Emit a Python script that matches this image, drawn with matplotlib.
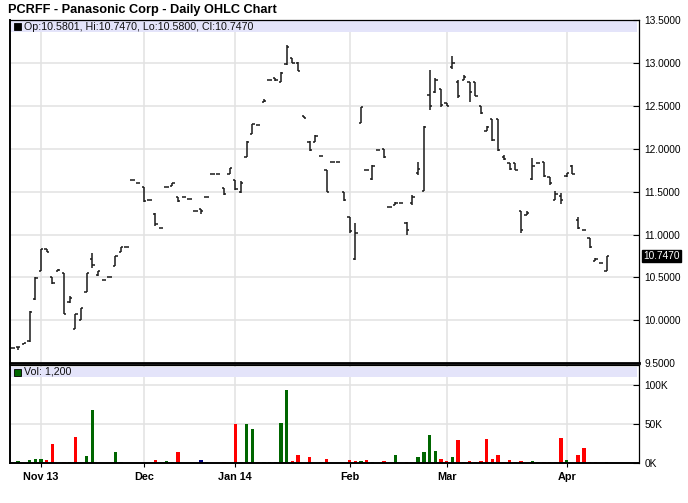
import matplotlib
matplotlib.use("Agg")
import matplotlib.pyplot as plt
from matplotlib.patches import Rectangle
from matplotlib.ticker import FixedLocator, FuncFormatter

plt.rcParams["font.family"] = ["Liberation Sans", "DejaVu Sans"]

# === DATA (one entry per trading session, oldest first) ===
opens = [9.68, 9.69, 9.73, 9.76, 10.25, 10.58, 10.83, 10.51, 10.58, 10.55,
         10.22, 9.90, 10.01, 10.33, 10.72, 10.53, 10.47, 10.50, 10.63, 10.80,
         10.85, 11.63, 11.60, 11.56, 11.40, 11.24, 11.08, 11.55, 11.57, 11.44,
         11.44, 11.41, 11.27, 11.30, 11.44, 11.71, 11.71, 11.54, 11.71, 11.64,
         11.50, 11.90, 12.17, 12.28, 12.54, 12.80, 12.82, 12.78, 12.99, 13.06,
         13.00, 12.38, 12.08, 12.08, 11.91, 11.75, 11.85, 11.85, 11.50, 11.21,
         10.71, 12.30, 11.75, 11.65, 11.99, 12.00, 11.32, 11.35, 11.37, 11.14,
         11.37, 11.72, 11.51, 12.63, 12.66, 12.70, 12.53, 12.95, 12.78, 12.80,
         12.78, 12.78, 12.50, 12.21, 12.35, 12.35, 11.90, 11.83, 11.83, 11.27,
         11.23, 11.65, 11.83, 11.85, 11.67, 11.40, 11.45, 11.68, 11.80, 11.17,
         11.05, 10.96, 10.69, 10.67, 10.5801]
highs = [9.68, 9.69, 9.74, 10.11, 10.50, 10.83, 10.83, 10.51, 10.60, 10.55,
         10.28, 10.07, 10.14, 10.55, 10.79, 10.57, 10.47, 10.50, 10.75, 10.85,
         10.85, 11.63, 11.60, 11.56, 11.40, 11.25, 11.08, 11.56, 11.60, 11.44,
         11.44, 11.41, 11.27, 11.30, 11.44, 11.71, 11.71, 11.54, 11.77, 11.64,
         11.62, 12.09, 12.29, 12.28, 12.58, 12.80, 12.82, 12.89, 13.21, 13.06,
         13.01, 12.38, 12.09, 12.16, 11.91, 11.75, 11.85, 11.85, 11.50, 11.21,
         11.13, 12.49, 11.75, 11.81, 11.99, 12.00, 11.32, 11.38, 11.37, 11.15,
         11.46, 11.84, 12.26, 12.92, 12.82, 12.70, 12.53, 13.08, 12.80, 12.86,
         12.78, 12.78, 12.50, 12.26, 12.35, 12.35, 11.93, 11.83, 11.83, 11.27,
         11.27, 11.89, 11.83, 11.85, 11.67, 11.51, 11.49, 11.72, 11.81, 11.20,
         11.05, 10.96, 10.73, 10.67, 10.747]
lows = [9.68, 9.65, 9.73, 9.75, 10.24, 10.57, 10.80, 10.42, 10.58, 10.08,
        10.20, 9.90, 10.00, 10.33, 10.61, 10.52, 10.47, 10.50, 10.63, 10.80,
        10.85, 11.63, 11.60, 11.38, 11.40, 11.10, 11.08, 11.55, 11.57, 11.38,
        11.44, 11.41, 11.27, 11.24, 11.44, 11.71, 11.71, 11.46, 11.71, 11.52,
        11.49, 11.90, 12.17, 12.28, 12.54, 12.80, 12.79, 12.78, 12.98, 13.00,
        12.90, 12.36, 11.97, 12.08, 11.91, 11.50, 11.85, 11.85, 11.39, 11.02,
        10.70, 12.30, 11.75, 11.64, 11.99, 11.89, 11.32, 11.35, 11.37, 11.00,
        11.35, 11.69, 11.51, 12.45, 12.65, 12.49, 12.50, 12.93, 12.59, 12.80,
        12.54, 12.61, 12.41, 12.21, 12.09, 11.97, 11.87, 11.75, 11.75, 11.02,
        11.23, 11.64, 11.83, 11.67, 11.58, 11.40, 11.36, 11.67, 11.70, 11.06,
        11.05, 10.84, 10.69, 10.67, 10.58]
closes = [9.68, 9.69, 9.74, 10.10, 10.49, 10.83, 10.80, 10.44, 10.59, 10.08,
          10.26, 10.07, 10.14, 10.55, 10.65, 10.57, 10.47, 10.50, 10.75, 10.85,
          10.85, 11.63, 11.60, 11.39, 11.40, 11.12, 11.08, 11.56, 11.60, 11.39,
          11.44, 11.41, 11.27, 11.27, 11.44, 11.71, 11.71, 11.47, 11.77, 11.53,
          11.60, 12.08, 12.29, 12.28, 12.56, 12.80, 12.80, 12.88, 13.19, 13.00,
          12.91, 12.36, 11.98, 12.15, 11.91, 11.50, 11.85, 11.85, 11.40, 11.04,
          11.02, 12.49, 11.75, 11.80, 11.99, 11.90, 11.32, 11.37, 11.37, 11.05,
          11.44, 11.76, 12.25, 12.50, 12.80, 12.51, 12.50, 13.00, 12.62, 12.84,
          12.66, 12.62, 12.42, 12.25, 12.10, 11.98, 11.88, 11.76, 11.75, 11.05,
          11.25, 11.80, 11.83, 11.68, 11.60, 11.47, 11.40, 11.72, 11.71, 11.08,
          11.05, 10.85, 10.72, 10.67, 10.747]
volumes_k = [0, 3, 0, 4, 5.5, 5.5, 4, 25, 0, 2,
             2, 34, 0, 9, 68, 0, 0, 0, 15, 1.7,
             0, 0, 0, 0, 0, 4, 0, 3, 1.7, 14,
             0, 0, 0, 4, 1.7, 0, 0, 1.7, 0, 50,
             1.7, 50, 44, 1.3, 1.3, 1.3, 1.3, 51, 93, 2.5,
             11, 0, 7.6, 0, 1.7, 5, 0, 0, 0, 4,
             3, 2.5, 4, 1.7, 0, 2.5, 0, 10, 0, 1.7,
             0, 8.5, 14, 36, 16, 5, 3, 7.6, 30, 1.7,
             3.4, 1.7, 3.4, 31, 5, 10, 1.7, 4.7, 1.7, 3.4,
             0, 2.5, 1.3, 1.3, 1.3, 1.3, 32, 4, 0, 10,
             20, 1.3, 1.3, 0, 1.2]
month_idx = [5, 23, 39, 59, 76, 97]
month_labels = ["Nov 13", "Dec", "Jan 14", "Feb", "Mar", "Apr"]
price_ticks = [9.5, 10.0, 10.5, 11.0, 11.5, 12.0, 12.5, 13.0, 13.5]
vol_ticks = [0, 50, 100]
TITLE = "PCRFF - Panasonic Corp - Daily OHLC Chart"

# === FIGURE CONFIGURATION ===
W, H = 688, 503
DPI = 100
AX_LEFT, AX_RIGHT = 9.7, 639.3          # pixels
PRICE_TOP, PRICE_BOTTOM = 20.0, 363.3
VOL_TOP, VOL_BOTTOM = 364.5, 463.3
XLIM = (-0.47, 109.7)
VOL_MAX = 125.7
GRID = "#e2e2e2"
BAND = "#e4e4fa"
UP, DOWN, FLAT = "#006600", "#ff0000", "#000080"
BAR = "#1a1a1a"
TICK_FS = 7.3
# === END CONFIGURATION ===


def axes_rect(top, bottom):
    return [AX_LEFT / W, 1 - bottom / H, (AX_RIGHT - AX_LEFT) / W, (bottom - top) / H]


def header(ax, top, bottom, y0, y1, swatch, label):
    """Lavender legend band just under the panel top, given in pixels."""
    ax_w = AX_RIGHT - AX_LEFT
    ax_h = bottom - top
    ax.add_patch(Rectangle((1.5 / ax_w, 1 - y1 / ax_h), 1 - 4 / ax_w, (y1 - y0) / ax_h,
                           transform=ax.transAxes, facecolor=BAND, edgecolor="none", zorder=1))
    ym = (y0 + y1) / 2
    ax.add_patch(Rectangle((4.5 / ax_w, 1 - (ym + 3.5) / ax_h), 7 / ax_w, 7 / ax_h,
                           transform=ax.transAxes, facecolor=swatch, edgecolor="black",
                           lw=0.6, zorder=3))
    ax.text(14.5 / ax_w, 1 - ym / ax_h, label, transform=ax.transAxes, fontsize=7.7,
            va="center", ha="left", color="#111111", zorder=3)


def style_axes(ax):
    ax.set_xlim(*XLIM)
    ax.yaxis.tick_right()
    ax.tick_params(axis="y", direction="in", length=4, labelsize=TICK_FS, pad=3.5,
                   colors="black")
    ax.xaxis.set_major_locator(FixedLocator(month_idx))
    for x in month_idx:
        ax.axvline(x, color=GRID, lw=1.1, zorder=0)
    for s in ax.spines.values():
        s.set_color("black")
        s.set_linewidth(0.9)
    ax.spines["left"].set_linewidth(1.4)


def main():
    n = len(closes)
    idx = list(range(n))
    fig = plt.figure(figsize=(W / DPI, H / DPI), dpi=DPI, facecolor="white")
    fig.text(8 / W, 1 - 9.5 / H, TITLE, fontsize=9.2, fontweight="bold", va="center", ha="left")

    #########################################################
    # Price panel
    #########################################################
    ax = fig.add_axes(axes_rect(PRICE_TOP, PRICE_BOTTOM))
    style_axes(ax)
    ax.set_ylim(price_ticks[0], price_ticks[-1])
    ax.set_yticks(price_ticks)
    ax.yaxis.set_major_formatter(FuncFormatter(lambda v, _: f"{v:.4f}"))
    for v in price_ticks[1:-1]:
        ax.axhline(v, color=GRID, lw=1.1, zorder=0)
    ax.tick_params(axis="x", length=0, labelbottom=False)
    ax.spines["bottom"].set_linewidth(2.0)

    ax.vlines(idx, lows, highs, color=BAR, lw=1.1, zorder=2)
    ax.hlines(opens, [i - 0.4 for i in idx], idx, color=BAR, lw=1.1, zorder=2)
    ax.hlines(closes, idx, [i + 0.4 for i in idx], color=BAR, lw=1.1, zorder=2)

    label = (f"Op:{opens[-1]:.4f}, Hi:{highs[-1]:.4f}, "
             f"Lo:{lows[-1]:.4f}, Cl:{closes[-1]:.4f}")
    header(ax, PRICE_TOP, PRICE_BOTTOM, 1.0, 12.3, "black", label)

    ax.text(1 + 4 / (AX_RIGHT - AX_LEFT), closes[-1], f"{closes[-1]:.4f}",
            transform=ax.get_yaxis_transform(), fontsize=TICK_FS, color="white",
            va="center", ha="left", zorder=5,
            bbox=dict(boxstyle="square,pad=0.12", facecolor="black", edgecolor="black"))

    #########################################################
    # Volume panel
    #########################################################
    axv = fig.add_axes(axes_rect(VOL_TOP, VOL_BOTTOM))
    style_axes(axv)
    axv.set_ylim(0, VOL_MAX)
    axv.set_yticks(vol_ticks)
    axv.yaxis.set_major_formatter(FuncFormatter(lambda v, _: f"{v:.0f}K"))
    for v in vol_ticks[1:]:
        axv.axhline(v, color=GRID, lw=1.1, zorder=0)
    axv.set_xticklabels(month_labels, fontsize=7.8, fontweight="bold")
    axv.tick_params(axis="x", direction="out", length=3, pad=3)
    axv.spines["bottom"].set_linewidth(1.4)

    colors = [UP]
    for prev, cur in zip(closes[:-1], closes[1:]):
        if round(cur, 4) > round(prev, 4):
            colors.append(UP)
        elif round(cur, 4) < round(prev, 4):
            colors.append(DOWN)
        else:
            colors.append(FLAT)
    axv.bar(idx, volumes_k, width=0.6, color=colors, zorder=2)
    header(axv, VOL_TOP, VOL_BOTTOM, 2.5, 12.5, UP, f"Vol: {volumes_k[-1] * 1000:,.0f}")

    fig.savefig("out.png", dpi=DPI, facecolor="white")
    plt.close(fig)


if __name__ == "__main__":
    main()
